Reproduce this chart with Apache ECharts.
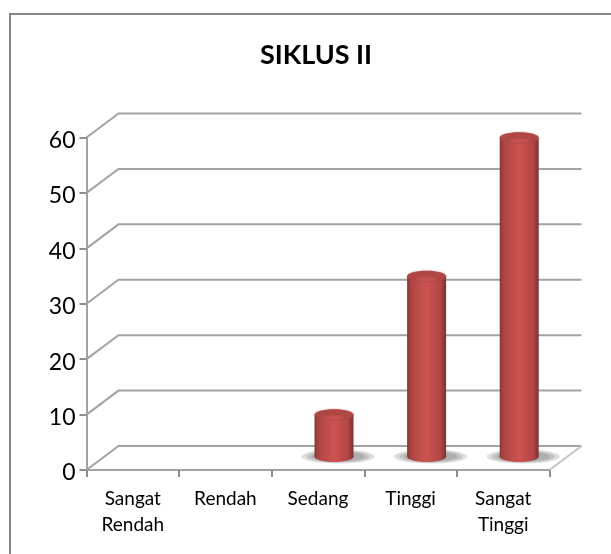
<!DOCTYPE html>
<html>
<head>
<meta charset="utf-8">
<style>
    html, body { margin: 0; padding: 0; background: #fff; }
    #chart { width: 611px; height: 554px; }
</style>
<script src="https://cdn.jsdelivr.net/npm/echarts@6/dist/echarts.min.js"></script>
</head>
<body>
<div id="chart"></div>
<script>
let categories = ['Sangat\nRendah', 'Rendah', 'Sedang', 'Tinggi', 'Sangat\nTinggi'];
let values = [0, 0, 8.33, 33.33, 58.33];
let y_ticks = [0, 10, 20, 30, 40, 50, 60];

// fake 3d look: how far the back wall sits from the front plane
let depth_x = 32;
let depth_y = 24;
let line_color = '#a3a3a3';

let chart = echarts.init(document.getElementById('chart'));

let body_fill = function () {
    return new echarts.graphic.LinearGradient(0, 0, 1, 0, [
        {offset: 0, color: '#8a3836'},
        {offset: 0.12, color: '#b04644'},
        {offset: 0.5, color: '#cd5350'},
        {offset: 0.85, color: '#b24745'},
        {offset: 1, color: '#7b3130'}
    ]);
};

let render_wall = function (params, api) {
    let y = api.coord([0, api.value(0)])[1];
    let rect = params.coordSys;
    let x0 = rect.x;
    let x1 = rect.x + rect.width;
    let children = [{
        type: 'polyline',
        shape: {points: [[x0, y], [x0 + depth_x, y - depth_y], [x1 + depth_x, y - depth_y]]},
        style: {fill: 'none', stroke: line_color, lineWidth: 2}
    }];
    if (api.value(0) === 0) {
        children.push({
            type: 'line',
            shape: {x1: x1, y1: y, x2: x1 + depth_x, y2: y - depth_y},
            style: {stroke: '#c4c4c4', lineWidth: 2}
        });
    }
    return {type: 'group', children: children};
};

let render_bar = function (params, api) {
    let v = api.value(1);
    if (!v) {
        return null;
    }
    let pt = api.coord([api.value(0), v]);
    let base = api.coord([api.value(0), 0]);
    let cx = pt[0] + depth_x / 2;
    let top = pt[1] - 9;
    let bottom = base[1] - 13.5;
    let rx = 19.5;
    let ry = 5.5;
    let shadow = [[rx + 17, 7], [rx + 12, 6], [rx + 7, 5]].map(function (s) {
        return {
            type: 'ellipse',
            shape: {cx: cx + 4, cy: bottom, rx: s[0], ry: s[1]},
            style: {fill: 'rgba(90,90,90,0.2)'}
        };
    });
    return {
        type: 'group',
        children: shadow.concat([
            {
                type: 'rect',
                shape: {x: cx - rx, y: top, width: rx * 2, height: bottom - top},
                style: {fill: body_fill()}
            },
            {
                type: 'ellipse',
                shape: {cx: cx, cy: bottom, rx: rx, ry: ry},
                style: {fill: body_fill()}
            },
            {
                type: 'ellipse',
                shape: {cx: cx, cy: top, rx: rx, ry: ry},
                style: {fill: '#b04745', shadowBlur: 2, shadowColor: 'rgba(150,70,70,0.6)'}
            },
            {
                type: 'ellipse',
                shape: {cx: cx, cy: top + 3, rx: rx * 0.5, ry: 1.5},
                style: {fill: '#c75350', shadowBlur: 3, shadowColor: '#c75350'}
            }
        ])
    };
};

let option = {
    animation: false,
    backgroundColor: '#fff',
    title: {
        text: 'SIKLUS II',
        left: 311,
        top: 37,
        textAlign: 'center',
        textStyle: {fontFamily: 'Lato', fontSize: 27, fontWeight: 'bold', color: '#000'}
    },
    graphic: [{
        type: 'rect',
        shape: {x: 10, y: 14, width: 620, height: 560},
        style: {fill: 'none', stroke: '#868686', lineWidth: 2},
        silent: true
    }],
    grid: {left: 86.5, right: 61.5, top: 137.5, bottom: 84},
    xAxis: {
        type: 'category',
        data: categories,
        axisLine: {lineStyle: {color: line_color, width: 2}},
        axisTick: {show: true, alignWithLabel: false, length: 7, lineStyle: {color: '#8c8c8c', width: 2}},
        axisLabel: {interval: 0, fontFamily: 'Lato', fontSize: 19, lineHeight: 26, color: '#000', margin: 16}
    },
    yAxis: {
        type: 'value',
        min: 0,
        max: 60,
        interval: 10,
        axisLine: {show: true, lineStyle: {color: line_color, width: 2}},
        axisTick: {show: true, length: 7, lineStyle: {color: '#8c8c8c', width: 2}},
        splitLine: {show: false},
        axisLabel: {
            fontFamily: 'Lato',
            fontSize: 23,
            color: '#000',
            margin: 11,
            formatter: '{n|{value}}',
            rich: {n: {fontFamily: 'Lato', fontSize: 23, color: '#000', padding: [6, 0, 0, 0]}}
        }
    },
    series: [
        {
            type: 'custom',
            silent: true,
            renderItem: render_wall,
            data: y_ticks.map(function (t) {
                return [t];
            }),
            encode: {y: 0},
            clip: false,
            z: 1
        },
        {
            type: 'custom',
            silent: true,
            renderItem: render_bar,
            data: values.map(function (v, i) {
                return [i, v];
            }),
            encode: {x: 0, y: 1},
            clip: false,
            z: 2
        }
    ]
};
chart.setOption(option);
</script>
</body>
</html>
